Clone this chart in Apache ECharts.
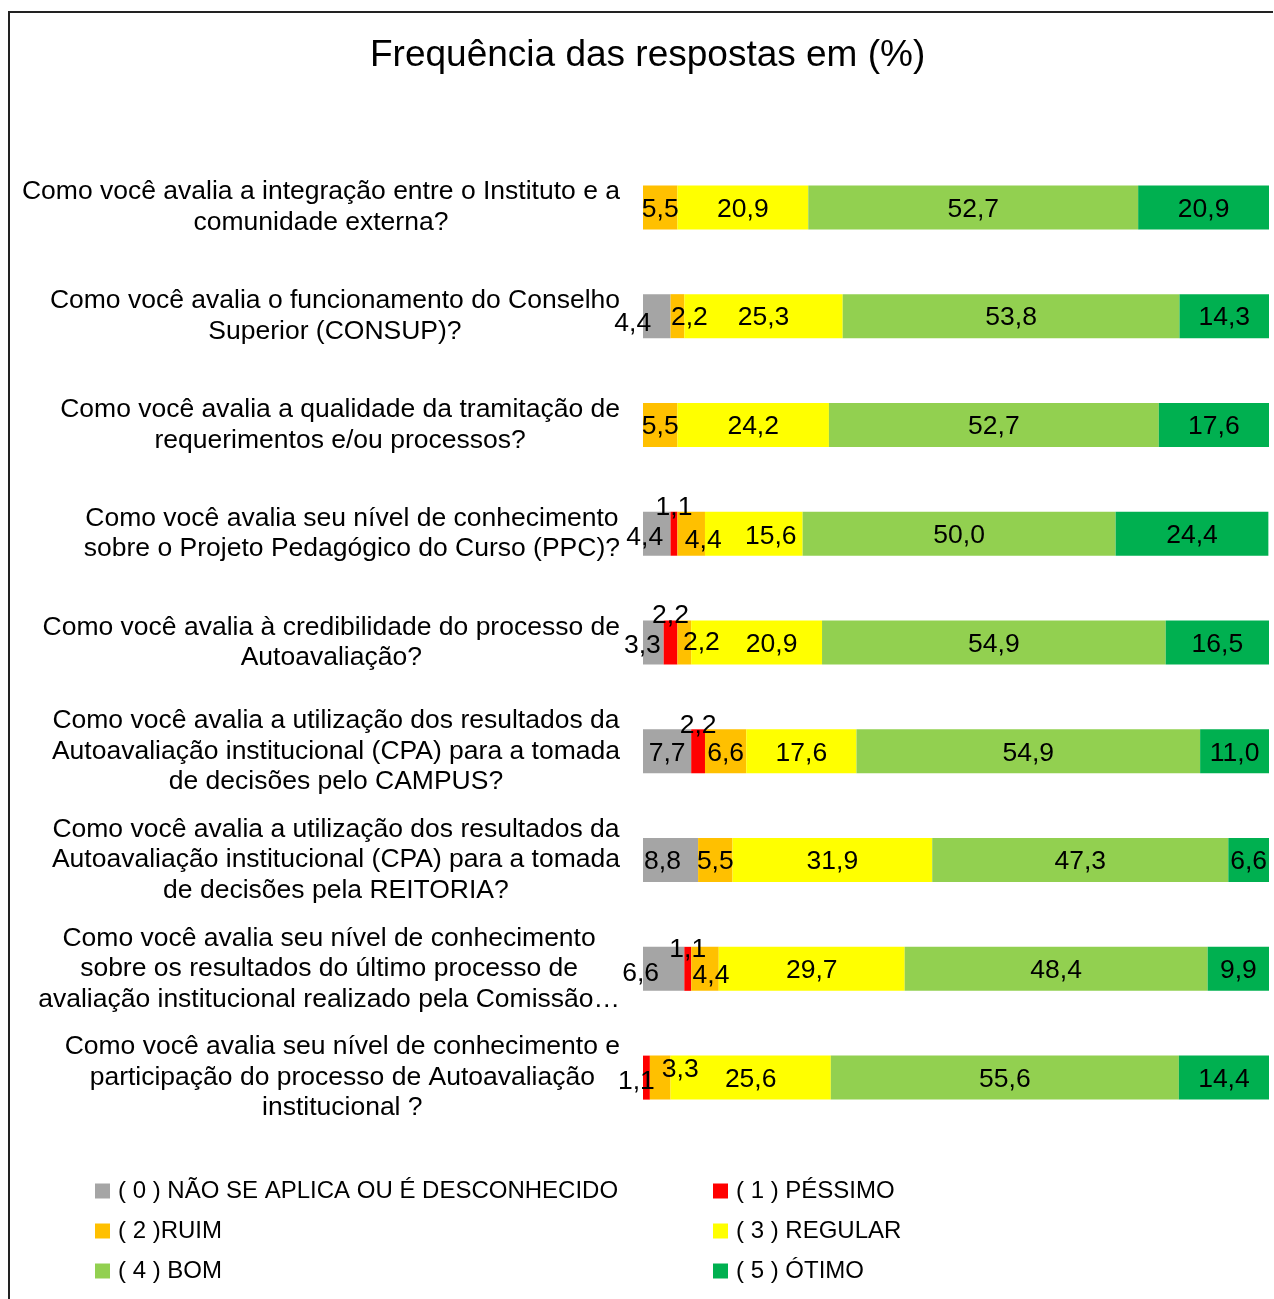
<!DOCTYPE html>
<html>
<head>
<meta charset="utf-8">
<script src="https://cdn.jsdelivr.net/npm/echarts@6/dist/echarts.min.js"></script>
<style>
  html, body { margin: 0; padding: 0; background: #fff; }
  #chart { width: 1274px; height: 1299px; }
</style>
</head>
<body>
<div id="chart"></div>
<script>
const questions = [
  'Como você avalia a integração entre o Instituto e a\ncomunidade externa?',
  'Como você avalia o funcionamento do Conselho\nSuperior (CONSUP)?',
  'Como você avalia a qualidade da tramitação de\nrequerimentos e/ou processos?',
  'Como você avalia seu nível de conhecimento\nsobre o Projeto Pedagógico do Curso (PPC)?',
  'Como você avalia à credibilidade do processo de\nAutoavaliação?',
  'Como você avalia a utilização dos resultados da\nAutoavaliação institucional (CPA) para a tomada\nde decisões pelo CAMPUS?',
  'Como você avalia a utilização dos resultados da\nAutoavaliação institucional (CPA) para a tomada\nde decisões pela REITORIA?',
  'Como você avalia seu nível de conhecimento\nsobre os resultados do último processo de\navaliação institucional realizado pela Comissão…',
  'Como você avalia seu nível de conhecimento e\nparticipação do processo de Autoavaliação\ninstitucional ?'
];

const seriesNames = [
  '( 0 ) NÃO SE APLICA OU É DESCONHECIDO',
  '( 1 ) PÉSSIMO',
  '( 2 )RUIM',
  '( 3 ) REGULAR',
  '( 4 ) BOM',
  '( 5 ) ÓTIMO'
];

const naoSeAplica = [0, 4.4, 0, 4.4, 3.3, 7.7, 8.8, 6.6, 0];
const pessimo = [0, 0, 0, 1.1, 2.2, 2.2, 0, 1.1, 1.1];
const ruim = [5.5, 2.2, 5.5, 4.4, 2.2, 6.6, 5.5, 4.4, 3.3];
const regular = [20.9, 25.3, 24.2, 15.6, 20.9, 17.6, 31.9, 29.7, 25.6];
const bom = [52.7, 53.8, 52.7, 50.0, 54.9, 54.9, 47.3, 48.4, 55.6];
const otimo = [20.9, 14.3, 17.6, 24.4, 16.5, 11.0, 6.6, 9.9, 14.4];

const colors = ['#A5A5A5', '#FF0000', '#FFC000', '#FFFF00', '#92D050', '#00B050'];

// manual nudges of the labels that were moved by hand, "row-series": [dx, dy]
const labelNudge = {
  '1-0': [-24, 8], '1-2': [12, 2],
  '3-0': [-12, 4], '3-1': [0, -26], '3-2': [12, 7], '3-3': [17, 3],
  '4-0': [-11, 3], '4-1': [0, -27], '4-2': [17, 0], '4-3': [15, 2],
  '5-1': [0, -26],
  '6-0': [-8, 2],
  '7-0': [-23, 5], '7-1': [0, -19], '7-2': [6, 7],
  '8-1': [-10, 4], '8-2': [20, -8]
};

const allValues = [naoSeAplica, pessimo, ruim, regular, bom, otimo];

const chart = echarts.init(document.getElementById('chart'));

const series = allValues.map((vals, s) => ({
  name: seriesNames[s],
  type: 'bar',
  stack: 'total',
  barWidth: 44,
  itemStyle: { color: colors[s] },
  label: {
    show: true,
    position: 'inside',
    offset: [0, 2],
    color: '#000',
    fontFamily: 'Liberation Sans, Arial, sans-serif',
    fontSize: 26.5,
    formatter: p => (p.value ? p.value.toFixed(1).replace('.', ',') : '')
  },
  data: vals.map((v, i) => {
    const n = labelNudge[i + '-' + s];
    return n ? { value: v, label: { offset: n } } : v;
  })
}));

const legendText = {
  fontFamily: 'Liberation Sans, Arial, sans-serif',
  fontSize: 24,
  color: '#000',
  padding: [0, 0, 0, 3]
};

chart.setOption({
  animation: false,
  title: {
    text: 'Frequência das respostas em (%)',
    left: 370,
    top: 37,
    padding: 0,
    textStyle: {
      fontFamily: 'Liberation Sans, Arial, sans-serif',
      fontSize: 37,
      fontWeight: 'normal',
      color: '#000'
    }
  },
  legend: [
    {
      data: [seriesNames[0], seriesNames[2], seriesNames[4]],
      orient: 'vertical',
      left: 95,
      top: 1179,
      padding: 0,
      itemWidth: 15,
      itemHeight: 15,
      itemGap: 16,
      icon: 'rect',
      selectedMode: false,
      textStyle: legendText
    },
    {
      data: [seriesNames[1], seriesNames[3], seriesNames[5]],
      orient: 'vertical',
      left: 713,
      top: 1179,
      padding: 0,
      itemWidth: 15,
      itemHeight: 15,
      itemGap: 16,
      icon: 'rect',
      selectedMode: false,
      textStyle: legendText
    }
  ],
  grid: {
    left: 643,
    right: 5,
    top: 153,
    height: 979
  },
  xAxis: {
    type: 'value',
    min: 0,
    max: 100,
    show: false
  },
  yAxis: {
    type: 'category',
    inverse: true,
    data: questions,
    axisLine: { show: false },
    axisTick: { show: false },
    axisLabel: {
      margin: 23,
      align: 'right',
      formatter: v => v.split('\n').map(l => '{q|' + l + '}').join('\n'),
      rich: {
        q: {
          align: 'center',
          fontFamily: 'Liberation Sans, Arial, sans-serif',
          fontSize: 26.5,
          lineHeight: 30.5,
          color: '#000'
        }
      }
    }
  },
  graphic: [
    { type: 'line', shape: { x1: 8, y1: 12, x2: 1273, y2: 12 }, style: { stroke: '#222', lineWidth: 2 } },
    { type: 'line', shape: { x1: 9, y1: 11, x2: 9, y2: 1299 }, style: { stroke: '#222', lineWidth: 2 } }
  ],
  series: series
});
</script>
</body>
</html>
